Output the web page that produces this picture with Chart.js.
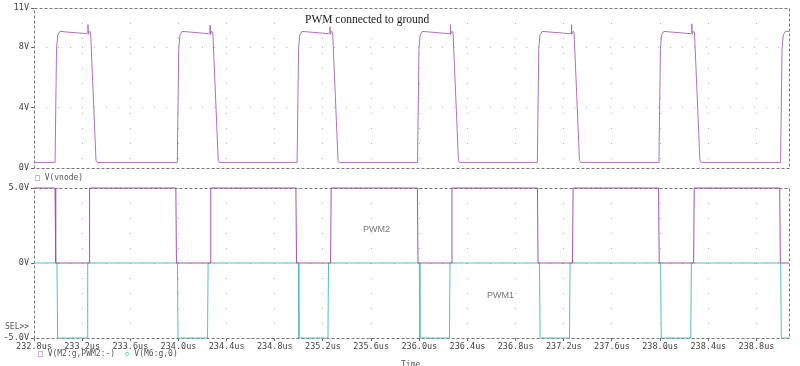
<!DOCTYPE html>
<html>
<head>
<meta charset="utf-8">
<script src="https://cdn.jsdelivr.net/npm/chart.js@4.4.0/dist/chart.umd.min.js"></script>
<style>
body { margin: 0; background: #fff; }
#wrap { position: relative; width: 800px; height: 366px; overflow: hidden; }
canvas { position: absolute; left: 0; }
.txt { position: absolute; white-space: nowrap; font-family: "DejaVu Sans Mono", monospace; font-size: 8px; line-height: 10px; color: #555; }
</style>
</head>
<body>
<div id="wrap">
	<canvas id="vnode-chart" width="800" height="180" style="top:0"></canvas>
	<canvas id="pwm-chart" width="800" height="186" style="top:180px"></canvas>
	<div class="txt" style="left:305px; top:12px; font-family:'Liberation Serif', serif; font-size:11.5px; line-height:14px; color:#1a1a1a">PWM connected to ground</div>
	<div class="txt" style="left:35px; top:173px"><span style="color:#a060b0">□</span> V(vnode)</div>
	<div class="txt" style="left:5px; top:322px">SEL&gt;&gt;</div>
	<div class="txt" style="left:38px; top:349px"><span style="color:#a060b0">□</span> V(M2:g,PWM2:-)&nbsp;&nbsp;<span style="color:#50b8b8">◇</span> V(M6:g,0)</div>
	<div class="txt" style="left:363px; top:224px; font-family:'Liberation Sans', sans-serif; font-size:9px; color:#777">PWM2</div>
	<div class="txt" style="left:487px; top:290px; font-family:'Liberation Sans', sans-serif; font-size:9px; color:#777">PWM1</div>
	<div class="txt" style="left:401px; top:360px">Time</div>
</div>
<script>
// time axis (us)
const timeTicks = [232.8, 233.2, 233.6, 234.0, 234.4, 234.8, 235.2, 235.6, 236.0, 236.4, 236.8, 237.2, 237.6, 238.0, 238.4, 238.8];
const timeLabels = ['232.8us', '233.2us', '233.6us', '234.0us', '234.4us', '234.8us', '235.2us', '235.6us',
	'236.0us', '236.4us', '236.8us', '237.2us', '237.6us', '238.0us', '238.4us', '238.8us'];

// V(vnode)
const vnodeTicks = [0, 4, 8, 10.6];
const vnodeTickLabels = ['0V', '4V', '8V', '11V'];
const vnodeTime = [
	232.8,
	232.975, 232.987, 232.997, 233.015, 233.235, 233.245, 233.248, 233.251, 233.26, 233.27, 233.315, 233.325,
	233.99, 234.002, 234.012, 234.03, 234.25, 234.26, 234.263, 234.266, 234.275, 234.285, 234.33, 234.34,
	234.985, 234.997, 235.007, 235.025, 235.245, 235.255, 235.258, 235.261, 235.27, 235.28, 235.325, 235.335,
	235.985, 235.997, 236.007, 236.025, 236.245, 236.255, 236.258, 236.261, 236.27, 236.28, 236.325, 236.335,
	236.98, 236.992, 237.002, 237.02, 237.25, 237.26, 237.263, 237.266, 237.275, 237.285, 237.33, 237.34,
	237.99, 238.002, 238.012, 238.03, 238.25, 238.26, 238.263, 238.266, 238.275, 238.285, 238.33, 238.34,
	239.0, 239.012, 239.022, 239.04, 239.07
];
const vnodeVolts = [
	0.37,
	0.37, 7.9, 8.8, 9.05, 8.9, 8.95, 9.5, 8.85, 9.05, 9.0, 0.5, 0.37,
	0.37, 7.9, 8.8, 9.05, 8.9, 8.95, 9.45, 8.85, 9.05, 9.0, 0.5, 0.37,
	0.37, 7.9, 8.8, 9.05, 8.9, 8.95, 9.35, 8.85, 9.05, 9.0, 0.5, 0.37,
	0.37, 7.9, 8.8, 9.05, 8.9, 8.95, 9.5, 8.85, 9.05, 9.0, 0.5, 0.37,
	0.37, 7.9, 8.8, 9.05, 8.9, 8.95, 9.5, 8.85, 9.05, 9.0, 0.5, 0.37,
	0.37, 7.9, 8.8, 9.05, 8.9, 8.95, 9.55, 8.85, 9.05, 9.0, 0.5, 0.37,
	0.37, 7.9, 8.8, 9.05, 9.05
];

// PWM2 / PWM1
const pwmTicks = [-5, 0, 5];
const pwmTickLabels = ['-5.0V', '0V', '5.0V'];
const pwm2Time = [232.8, 232.975, 232.98, 233.257, 233.262, 233.978, 233.983, 234.263, 234.268, 234.975, 234.98,
	235.263, 235.268, 235.984, 235.989, 236.266, 236.271, 236.981, 236.986, 237.272, 237.277, 237.987, 237.992,
	238.278, 238.283, 238.993, 238.998, 239.07];
const pwm2Volts = [5, 5, 0, 0, 5, 5, 0, 0, 5, 5, 0, 0, 5, 5, 0, 0, 5, 5, 0, 0, 5, 5, 0, 0, 5, 5, 0, 0];
const pwm1Time = [232.8, 232.991, 232.996, 233.241, 233.246, 233.991, 233.996, 234.241, 234.246, 234.995, 235.0,
	235.241, 235.246, 236.0, 236.005, 236.25, 236.255, 236.998, 237.003, 237.247, 237.252, 238.004, 238.009,
	238.254, 238.259, 239.001, 239.006, 239.07];
const pwm1Volts = [0, 0, -5, -5, 0, 0, -5, -5, 0, 0, -5, -5, 0, 0, -5, -5, 0, 0, -5, -5, 0, 0, -5, -5, 0, 0, -5, -5];

const xMin = 232.8;
const xMax = 239.07;

Chart.defaults.font.family = "'DejaVu Sans Mono', monospace";
Chart.defaults.font.size = 8.5;
Chart.defaults.color = '#444';

const framePlugin = {
	id: 'frame',
	beforeDatasetsDraw(chart) {
		let a = chart.chartArea;
		let ctx = chart.ctx;
		ctx.save();
		ctx.strokeStyle = '#777';
		ctx.lineWidth = 1;
		ctx.setLineDash([3, 2]);
		ctx.strokeRect(Math.round(a.left) + 0.5, Math.round(a.top) + 0.5,
			Math.round(a.right - a.left), Math.round(a.bottom - a.top));
		ctx.restore();
	}
};

function toPoints(times, volts) {
	return times.map((t, i) => ({ x: t, y: volts[i] }));
}

function timeAxis(showLabels, height) {
	return {
		type: 'linear',
		min: xMin,
		max: xMax,
		afterBuildTicks: scale => { scale.ticks = timeTicks.map(v => ({ value: v })); },
		afterFit: scale => { scale.height = height; },
		border: { display: false, dash: [1, 14] },
		grid: {
			color: '#b4b4b4',
			borderDash: [1, 14],
			drawTicks: showLabels,
			tickLength: 3,
			tickColor: '#666'
		},
		ticks: {
			display: showLabels,
			autoSkip: false,
			maxRotation: 0,
			padding: 1,
			callback: (value, index) => timeLabels[index]
		}
	};
}

function voltAxis(min, max, tickValues, tickLabels) {
	return {
		min: min,
		max: max,
		afterBuildTicks: scale => { scale.ticks = tickValues.map(v => ({ value: v })); },
		afterFit: scale => { scale.width = 34; },
		border: { display: false, dash: [1, 11] },
		grid: {
			color: '#b4b4b4',
			borderDash: [1, 11],
			tickLength: 3,
			tickColor: '#666'
		},
		ticks: {
			padding: 2,
			callback: (value, index) => tickLabels[index]
		}
	};
}

function drawVnodeChart() {
	let ctx = document.getElementById('vnode-chart').getContext('2d');
	new Chart(ctx, {
		type: 'line',
		data: {
			datasets: [{
				label: 'V(vnode)',
				data: toPoints(vnodeTime, vnodeVolts),
				borderColor: '#b070bd',
				borderWidth: 1,
				pointRadius: 0,
				tension: 0,
				clip: 2
			}]
		},
		options: {
			responsive: false,
			animation: false,
			layout: { padding: { top: 8, right: 11, left: 0, bottom: 0 } },
			plugins: { legend: { display: false }, tooltip: { enabled: false } },
			scales: {
				x: timeAxis(false, 12),
				y: voltAxis(0, 10.6, vnodeTicks, vnodeTickLabels)
			}
		},
		plugins: [framePlugin]
	});
}

function drawPwmChart() {
	let ctx = document.getElementById('pwm-chart').getContext('2d');
	new Chart(ctx, {
		type: 'line',
		data: {
			datasets: [{
				label: 'V(M2:g,PWM2:-)',
				data: toPoints(pwm2Time, pwm2Volts),
				borderColor: '#a252b2',
				borderWidth: 1,
				pointRadius: 0,
				tension: 0,
				clip: 2
			}, {
				label: 'V(M6:g,0)',
				data: toPoints(pwm1Time, pwm1Volts),
				borderColor: '#55c0c0',
				borderWidth: 1,
				pointRadius: 0,
				tension: 0,
				clip: 2
			}]
		},
		options: {
			responsive: false,
			animation: false,
			layout: { padding: { top: 8, right: 11, left: 0, bottom: 0 } },
			plugins: { legend: { display: false }, tooltip: { enabled: false } },
			scales: {
				x: timeAxis(true, 28),
				y: voltAxis(-5, 5, pwmTicks, pwmTickLabels)
			}
		},
		plugins: [framePlugin]
	});
}

drawVnodeChart();
drawPwmChart();
</script>
</body>
</html>
